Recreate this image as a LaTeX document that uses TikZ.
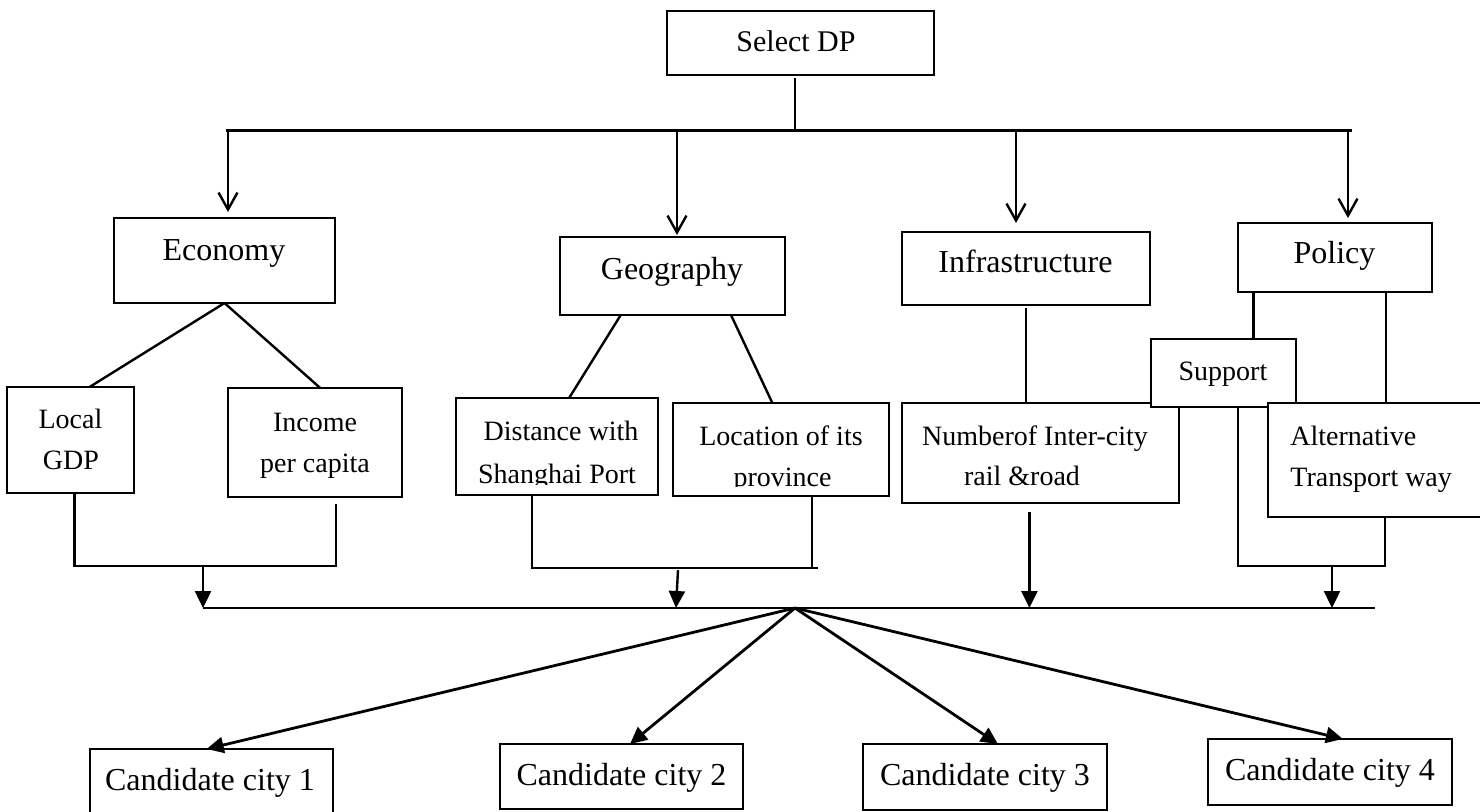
\documentclass[tikz,border=0pt]{standalone}
\usepackage{fontspec}
\setmainfont{Liberation Serif}
\usetikzlibrary{arrows.meta,calc}

% a framed box given by its corners (in drawing units)
\newcommand{\mkbox}[5]{%
  \node[box,minimum width={(#4-#2)*0.5pt},minimum height={(#5-#3)*0.5pt}]
    (#1) at ({(#2+#4)/2},{(#3+#5)/2}) {};}

\begin{document}
\begin{tikzpicture}[x=0.5pt,y=-0.5pt,
  box/.style={draw,line width=1.4pt,fill=white,inner sep=0pt,outer sep=0pt},
  lbl/.style={inner sep=0pt,anchor=base,font=\fontsize{16}{19}\selectfont},
  lblsmall/.style={lbl,font=\fontsize{14}{17}\selectfont},
  wire/.style={line width=1.2pt},
  openarrow/.style={wire,-{Straight Barb[length=8.5pt,width=9.5pt]}},
  solidarrow/.style={wire,-{Triangle[length=8.5pt,width=8pt]}},
]
\fill[white] (0,0) rectangle (1480,811);
\useasboundingbox (0,0) rectangle (1480,811);

% ---------- boxes ----------
\mkbox{sdp}{667}{11}{934}{75}
\mkbox{econ}{114}{218}{335}{303}
\mkbox{geo}{560}{237}{785}{315}
\mkbox{infra}{902}{232}{1150}{305}
\mkbox{policy}{1238}{223}{1432}{292}
\mkbox{gdp}{7}{387}{134}{493}
\mkbox{income}{228}{388}{402}{497}
\mkbox{dist}{456}{398}{658}{495}
\mkbox{loc}{673}{403}{889}{496}
\mkbox{rail}{902}{403}{1179}{503}
\mkbox{support}{1151}{339}{1296}{407}
\mkbox{alt}{1268}{403}{1490}{517}
\mkbox{c1}{90}{749}{333}{815}
\mkbox{c2}{500}{744}{743}{809}
\mkbox{c3}{863}{744}{1107}{810}
\mkbox{c4}{1208}{739}{1452}{805}

% ---------- labels ----------
\node[lbl,font=\fontsize{15}{18}\selectfont] (sdpt) at (796,51) {Select DP};
\node[lbl] (econt) at (224,260) {Economy};
\node[lbl] (geot) at (672,279) {Geography};
\node[lbl] (infrat) at (1025.5,272) {Infrastructure};
\node[lbl] (policyt) at (1334.5,263) {Policy};

\node[lblsmall] (gdpt1) at (70.5,428) {Local};
\node[lblsmall] (gdpt2) at (71,469) {GDP};
\node[lblsmall] (inct1) at (315,431) {Income};
\node[lblsmall] (inct2) at (315,472) {per capita};

\begin{scope}
  \clip (dist.north west) rectangle ([yshift=5.5pt]dist.south east);
  \node[lblsmall] (distt1) at (561,440) {Distance with};
  \node[lblsmall] (distt2) at (557,483) {Shanghai Port};
\end{scope}
\begin{scope}
  \clip (loc.north west) rectangle ([yshift=5pt]loc.south east);
  \node[lblsmall] (loct1) at (781,445) {Location of its};
  \node[lblsmall] (loct2) at (782.5,486) {province};
\end{scope}

\node[lblsmall] (railt1) at (1035,445) {Numberof Inter-city};
\node[lblsmall] (railt2) at (1022,485) {rail \&road};
\node[lblsmall] (supt) at (1223,380) {Support};
\node[lblsmall,anchor=base west] (altt1) at (1290,445) {Alternative};
\node[lblsmall,anchor=base west] (altt2) at (1290,486) {Transport way};

\node[lbl] (c1t) at (210,790) {Candidate city 1};
\node[lbl] (c2t) at (621.5,785) {Candidate city 2};
\node[lbl] (c3t) at (985,785) {Candidate city 3};
\node[lbl] (c4t) at (1330,780) {Candidate city 4};

% ---------- top distribution ----------
\coordinate (hubtop) at (795,130);
\coordinate (busL) at (226,130);
\coordinate (busR) at (1352,130);
\draw[wire,line width=1.5pt] (busL) -- (busR);
\draw[wire] ([yshift=-1.5pt]sdp.south -| hubtop) -- (hubtop);

\coordinate (t1) at (228,130);
\coordinate (t2) at (677,130);
\coordinate (t3) at (1016,130);
\coordinate (t4) at (1348,130);
\draw[openarrow,shorten >=3pt] (t1) -- (t1 |- econ.north);
\draw[openarrow,shorten >=1pt] (t2) -- (t2 |- geo.north);
\draw[openarrow,shorten >=4.5pt] (t3) -- (t3 |- infra.north);
\draw[openarrow,shorten >=2.5pt] (t4) -- (t4 |- policy.north);

% ---------- branches to the sub-factors ----------
\draw[wire] (econ.south) -- ($(gdp.north west)!0.65!(gdp.north east)$);
\draw[wire] (econ.south) -- ($(income.north west)!0.53!(income.north east)$);
\draw[wire] ($(geo.south west)!0.27!(geo.south east)$) -- ($(dist.north west)!0.56!(dist.north east)$);
\draw[wire] ($(geo.south west)!0.76!(geo.south east)$) -- ($(loc.north west)!0.46!(loc.north east)$);
\draw[wire] ([yshift=-1.5pt]infra.south) -- (infra.south |- rail.north);
\coordinate (polL) at ($(policy.south west)!0.08!(policy.south east)$);
\coordinate (polR) at ($(policy.south west)!0.763!(policy.south east)$);
\draw[wire] (polL) -- (polL |- support.north);
\draw[wire] (polR) -- (polR |- alt.north);

% ---------- merging into the lower bus ----------
\coordinate (bbL) at (203,608);
\coordinate (bbR) at (1375,608);
\coordinate (hub) at (795,608);
\draw[wire,line width=1.4pt] (bbL) -- (bbR);

% economy
\coordinate (gdpS) at ($(gdp.south west)!0.53!(gdp.south east)$);
\coordinate (incS) at ($(income.south west)!0.62!(income.south east)$);
\coordinate (m1) at (203,566);
\draw[wire] (gdpS) -- (gdpS |- m1) -- (incS |- m1) -- ([yshift=-3.5pt]incS);
\draw[solidarrow] (m1) -- (bbL);

% geography
\coordinate (distS) at ($(dist.south west)!0.376!(dist.south east)$);
\coordinate (locS) at ($(loc.south west)!0.644!(loc.south east)$);
\coordinate (m2) at (678,568);
\coordinate (m2e) at (818,568);
\draw[wire] (distS) -- (distS |- m2) -- (m2e);
\draw[wire] (locS) -- (locS |- m2);
\draw[solidarrow] ([yshift=-1pt]m2) -- (676,608);

% infrastructure
\coordinate (railS) at ($(rail.south west)!0.46!(rail.south east)$);
\draw[solidarrow] ([yshift=-4.5pt]railS) -- (railS |- bbL);

% policy
\coordinate (supS) at ($(support.south west)!0.6!(support.south east)$);
\coordinate (altS) at ($(alt.south west)!0.527!(alt.south east)$);
\coordinate (m4) at (1332,566);
\draw[wire] (supS) -- (supS |- m4) -- (altS |- m4) -- (altS);
\draw[solidarrow] (m4) -- (m4 |- bbL);

% ---------- candidate cities ----------
\begin{scope}[line width=1.4pt]
\draw[solidarrow,line width=1.4pt] (hub) -- ($(c1.north west)!0.48!(c1.north east)$);
\draw[solidarrow,line width=1.4pt] (hub) -- ($(c2.north west)!0.535!(c2.north east)$);
\draw[solidarrow,line width=1.4pt] (hub) -- ($(c3.north west)!0.553!(c3.north east)$);
\draw[solidarrow,line width=1.4pt] (hub) -- ($(c4.north west)!0.553!(c4.north east)$);
\end{scope}
\end{tikzpicture}
\end{document}
